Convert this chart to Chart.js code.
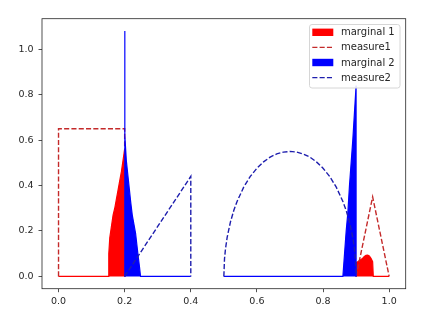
<!DOCTYPE html>
<html>
<head>
<meta charset="utf-8">
<script src="https://cdn.jsdelivr.net/npm/chart.js@4/dist/chart.umd.min.js"></script>
<style>
html,body{margin:0;padding:0;background:#fff;}
canvas{display:block;}
</style>
</head>
<body>
<canvas id="c" width="423" height="325"></canvas>
<script>
// ---- data ----
const legendLabels = ['marginal 1', 'measure1', 'marginal 2', 'measure2'];
const xTicks = [0.0, 0.2, 0.4, 0.6, 0.8, 1.0];
const yTicks = [0.0, 0.2, 0.4, 0.6, 0.8, 1.0];

// marginal 1 (red fill), two pieces
const m1aX = [0, 0.15, 0.152, 0.155, 0.16, 0.165, 0.17, 0.175, 0.18, 0.185, 0.19, 0.195, 0.2, 0.2];
const m1aY = [0, 0, 0.10, 0.17, 0.22, 0.27, 0.30, 0.34, 0.38, 0.42, 0.46, 0.51, 0.56, 0];
const m1bX = [0.9, 0.9, 0.905, 0.91, 0.915, 0.92, 0.925, 0.93, 0.935, 0.94, 0.945, 0.95, 0.952, 1.0];
const m1bY = [0, 0.06, 0.065, 0.07, 0.075, 0.08, 0.088, 0.093, 0.094, 0.09, 0.08, 0.065, 0, 0];

// measure1 (red dashed), two pieces
const s1aX = [0, 0, 0.2, 0.2];
const s1aY = [0, 0.65, 0.65, 0];
const s1bX = [0.9, 0.95, 1.0];
const s1bY = [0, 0.35, 0];

// marginal 2 (blue fill), two pieces
const m2aX = [0.2, 0.2, 0.201, 0.205, 0.213, 0.218, 0.223, 0.233, 0.24, 0.245, 0.248, 0.4];
const m2aY = [0, 1.08, 0.62, 0.51, 0.40, 0.33, 0.27, 0.19, 0.10, 0.04, 0, 0];
const m2bX = [0.5, 0.86, 0.865, 0.87, 0.875, 0.88, 0.885, 0.89, 0.895, 0.9, 0.9];
const m2bY = [0, 0, 0.10, 0.20, 0.28, 0.40, 0.50, 0.60, 0.72, 0.84, 0];

// measure2 (blue dashed), two pieces
const s2aX = [0.2, 0.4, 0.4];
const s2aY = [0, 0.44, 0];
const s2bX = [0.5, 0.502, 0.505, 0.51, 0.52, 0.53, 0.54, 0.56, 0.58, 0.60, 0.62, 0.64, 0.66, 0.68, 0.70,
              0.72, 0.74, 0.76, 0.78, 0.80, 0.82, 0.84, 0.86, 0.87, 0.88, 0.89, 0.895, 0.898, 0.9];
const s2bY = [0, 0.078, 0.122, 0.172, 0.240, 0.290, 0.330, 0.393, 0.440, 0.476, 0.504, 0.525, 0.539, 0.547, 0.55,
              0.547, 0.539, 0.525, 0.504, 0.476, 0.440, 0.393, 0.330, 0.290, 0.240, 0.172, 0.122, 0.078, 0];

// ---- styling ----
const RED = '#ff0000', BLUE = '#0000ff';
const RED_LINE = '#c42a2a', BLUE_LINE = '#1e1eae';
const DASH = [5.1, 2.2];
const FONT = 'DejaVu Sans';
const TXT = '#262626';

const pts = (xs, ys) => xs.map((x, i) => ({x: x, y: ys[i]}));

function fillSet(xs, ys, col, ord) {
  return {data: pts(xs, ys), borderColor: col, backgroundColor: col, borderWidth: 1.2,
          fill: 'origin', pointRadius: 0, tension: 0, order: ord};
}
function dashSet(xs, ys, col, ord) {
  return {data: pts(xs, ys), borderColor: col, borderWidth: 1.4, borderDash: DASH,
          fill: false, pointRadius: 0, tension: 0, order: ord};
}

const frameLegend = {
  id: 'frameLegend',
  afterDatasetsDraw(chart) {
    const ctx = chart.ctx, a = chart.chartArea;
    ctx.save();
    ctx.strokeStyle = '#262626';
    ctx.lineWidth = 0.8;
    ctx.strokeRect(a.left, a.top, a.right - a.left, a.bottom - a.top);
    ctx.restore();
  },
  afterDraw(chart) {
    const ctx = chart.ctx;
    ctx.save();
    const bx = 309.5, by = 24.5, bw = 90.5, bh = 63.5, r = 2.5;
    ctx.beginPath();
    ctx.moveTo(bx + r, by);
    ctx.lineTo(bx + bw - r, by); ctx.quadraticCurveTo(bx + bw, by, bx + bw, by + r);
    ctx.lineTo(bx + bw, by + bh - r); ctx.quadraticCurveTo(bx + bw, by + bh, bx + bw - r, by + bh);
    ctx.lineTo(bx + r, by + bh); ctx.quadraticCurveTo(bx, by + bh, bx, by + bh - r);
    ctx.lineTo(bx, by + r); ctx.quadraticCurveTo(bx, by, bx + r, by);
    ctx.closePath();
    ctx.fillStyle = 'rgba(255,255,255,0.85)';
    ctx.fill();
    ctx.strokeStyle = '#d6d6d6';
    ctx.lineWidth = 1;
    ctx.stroke();
    const kinds = ['patch', 'dash', 'patch', 'dash'];
    const cols = [RED, RED_LINE, BLUE, BLUE_LINE];
    ctx.font = '10px "' + FONT + '"';
    ctx.textBaseline = 'middle';
    legendLabels.forEach((lab, i) => {
      const y = 32.3 + 15.1 * i;
      if (kinds[i] === 'patch') {
        ctx.fillStyle = cols[i];
        ctx.fillRect(312.3, y - 3.7, 21, 7.4);
      } else {
        ctx.strokeStyle = cols[i];
        ctx.lineWidth = 1.4;
        ctx.setLineDash(DASH);
        ctx.beginPath(); ctx.moveTo(312.3, y); ctx.lineTo(333.3, y); ctx.stroke();
        ctx.setLineDash([]);
      }
      ctx.fillStyle = TXT;
      ctx.fillText(lab, 341, y + 0.5);
    });
    ctx.restore();
  }
};

new Chart(document.getElementById('c'), {
  type: 'line',
  data: {
    datasets: [
      fillSet(m1aX, m1aY, RED, 8),
      fillSet(m1bX, m1bY, RED, 7),
      dashSet(s1aX, s1aY, RED_LINE, 6),
      dashSet(s1bX, s1bY, RED_LINE, 5),
      fillSet(m2aX, m2aY, BLUE, 4),
      fillSet(m2bX, m2bY, BLUE, 3),
      dashSet(s2aX, s2aY, BLUE_LINE, 2),
      dashSet(s2bX, s2bY, BLUE_LINE, 1)
    ]
  },
  options: {
    responsive: false,
    animation: false,
    devicePixelRatio: 1,
    layout: {padding: {left: 0, right: 17.3, top: 18.7, bottom: 0}},
    plugins: {legend: {display: false}, tooltip: {enabled: false}},
    scales: {
      x: {
        type: 'linear', min: -0.05, max: 1.05,
        afterBuildTicks: s => { s.ticks = xTicks.map(v => ({value: v})); },
        afterFit: s => { s.height = 36.3; },
        grid: {drawOnChartArea: false, drawTicks: true, tickLength: 3.5, tickColor: TXT, tickWidth: 0.8},
        border: {display: false},
        ticks: {color: TXT, padding: 3.5, font: {family: FONT, size: 9.5},
                maxRotation: 0, callback: v => Number(v).toFixed(1)}
      },
      y: {
        type: 'linear', min: -0.054, max: 1.134,
        afterBuildTicks: s => { s.ticks = yTicks.map(v => ({value: v})); },
        afterFit: s => { s.width = 42; },
        grid: {drawOnChartArea: false, drawTicks: true, tickLength: 3.5, tickColor: TXT, tickWidth: 0.8},
        border: {display: false},
        ticks: {color: TXT, padding: 5, font: {family: FONT, size: 9.5},
                callback: v => Number(v).toFixed(1)}
      }
    }
  },
  plugins: [frameLegend]
});
</script>
</body>
</html>
